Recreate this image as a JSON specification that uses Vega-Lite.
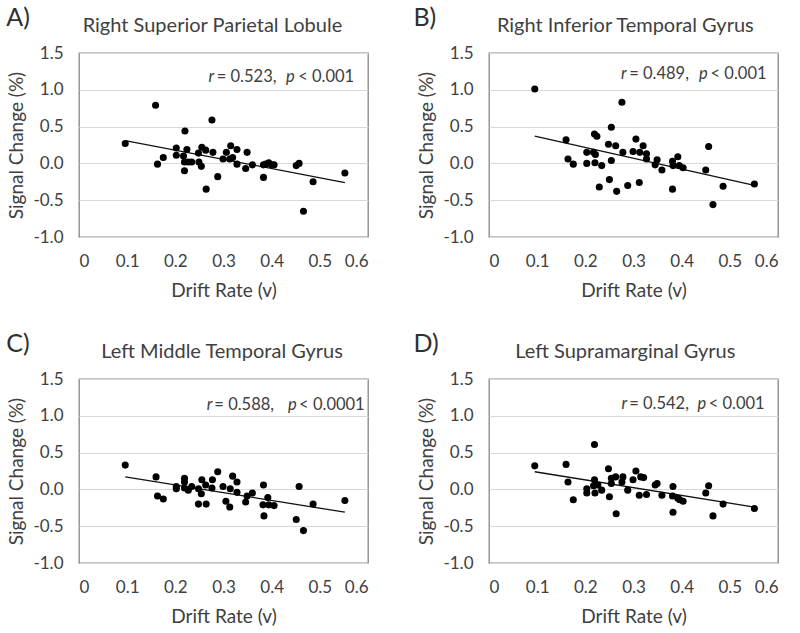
{
  "$schema": "https://vega.github.io/schema/vega-lite/v6.json",
  "background": "white",
  "padding": {"left": 5, "top": 5, "right": 5, "bottom": 5},
  "config": {
    "font": "Lato",
    "view": {"stroke": "#878787", "strokeWidth": 1.3},
    "axis": {"labelFont": "Lato", "titleFont": "Lato", "labelFontSize": 17, "titleFontSize": 19, "labelColor": "#404040", "titleColor": "#404040", "titleFontWeight": "normal", "ticks": false, "domain": false, "labelPadding": 16},
    "axisX": {"grid": false, "titlePadding": 12},
    "axisY": {"grid": true, "gridColor": "#d9d9d9", "gridWidth": 1, "titlePadding": 6}
  },
  "datasets": {
    "pts": [
      {"p":"A","v":0.096,"s":0.27},{"p":"A","v":0.159,"s":0.79},{"p":"A","v":0.163,"s":-0.01},{"p":"A","v":0.175,"s":0.08},{"p":"A","v":0.202,"s":0.21},{"p":"A","v":0.202,"s":0.11},{"p":"A","v":0.220,"s":0.44},{"p":"A","v":0.224,"s":0.19},{"p":"A","v":0.217,"s":0.10},{"p":"A","v":0.219,"s":0.02},{"p":"A","v":0.219,"s":-0.10},{"p":"A","v":0.227,"s":0.02},{"p":"A","v":0.234,"s":0.02},{"p":"A","v":0.248,"s":0.14},{"p":"A","v":0.249,"s":0.02},{"p":"A","v":0.254,"s":-0.04},{"p":"A","v":0.255,"s":0.22},{"p":"A","v":0.263,"s":0.18},{"p":"A","v":0.264,"s":-0.35},{"p":"A","v":0.276,"s":0.59},{"p":"A","v":0.278,"s":0.15},{"p":"A","v":0.288,"s":-0.18},{"p":"A","v":0.299,"s":0.06},{"p":"A","v":0.306,"s":0.15},{"p":"A","v":0.315,"s":0.24},{"p":"A","v":0.313,"s":0.06},{"p":"A","v":0.319,"s":0.08},{"p":"A","v":0.328,"s":0.19},{"p":"A","v":0.328,"s":-0.01},{"p":"A","v":0.346,"s":-0.07},{"p":"A","v":0.349,"s":0.15},{"p":"A","v":0.360,"s":-0.02},{"p":"A","v":0.383,"s":-0.02},{"p":"A","v":0.383,"s":-0.19},{"p":"A","v":0.388,"s":-0.01},{"p":"A","v":0.394,"s":0.01},{"p":"A","v":0.400,"s":-0.02},{"p":"A","v":0.405,"s":-0.02},{"p":"A","v":0.451,"s":-0.03},{"p":"A","v":0.457,"s":0.00},{"p":"A","v":0.466,"s":-0.65},{"p":"A","v":0.486,"s":-0.25},{"p":"A","v":0.552,"s":-0.13},
      {"p":"B","v":0.095,"s":1.01},{"p":"B","v":0.160,"s":0.32},{"p":"B","v":0.164,"s":0.06},{"p":"B","v":0.175,"s":-0.01},{"p":"B","v":0.203,"s":0.15},{"p":"B","v":0.203,"s":0.00},{"p":"B","v":0.217,"s":0.15},{"p":"B","v":0.221,"s":0.12},{"p":"B","v":0.219,"s":0.40},{"p":"B","v":0.224,"s":0.37},{"p":"B","v":0.220,"s":0.01},{"p":"B","v":0.234,"s":-0.03},{"p":"B","v":0.229,"s":-0.32},{"p":"B","v":0.248,"s":0.26},{"p":"B","v":0.250,"s":-0.22},{"p":"B","v":0.254,"s":0.49},{"p":"B","v":0.254,"s":0.04},{"p":"B","v":0.263,"s":0.24},{"p":"B","v":0.265,"s":-0.38},{"p":"B","v":0.276,"s":0.83},{"p":"B","v":0.278,"s":0.15},{"p":"B","v":0.288,"s":-0.30},{"p":"B","v":0.299,"s":0.16},{"p":"B","v":0.305,"s":0.33},{"p":"B","v":0.313,"s":0.15},{"p":"B","v":0.312,"s":-0.26},{"p":"B","v":0.320,"s":0.24},{"p":"B","v":0.327,"s":0.13},{"p":"B","v":0.327,"s":0.06},{"p":"B","v":0.345,"s":-0.02},{"p":"B","v":0.349,"s":0.05},{"p":"B","v":0.359,"s":-0.09},{"p":"B","v":0.381,"s":0.03},{"p":"B","v":0.382,"s":-0.03},{"p":"B","v":0.381,"s":-0.35},{"p":"B","v":0.392,"s":0.09},{"p":"B","v":0.395,"s":-0.03},{"p":"B","v":0.403,"s":-0.06},{"p":"B","v":0.450,"s":-0.09},{"p":"B","v":0.456,"s":0.23},{"p":"B","v":0.465,"s":-0.56},{"p":"B","v":0.486,"s":-0.31},{"p":"B","v":0.551,"s":-0.28},
      {"p":"C","v":0.096,"s":0.33},{"p":"C","v":0.160,"s":0.17},{"p":"C","v":0.163,"s":-0.09},{"p":"C","v":0.175,"s":-0.13},{"p":"C","v":0.202,"s":0.04},{"p":"C","v":0.202,"s":0.01},{"p":"C","v":0.219,"s":0.15},{"p":"C","v":0.219,"s":0.10},{"p":"C","v":0.219,"s":0.02},{"p":"C","v":0.227,"s":-0.01},{"p":"C","v":0.234,"s":0.04},{"p":"C","v":0.248,"s":0.01},{"p":"C","v":0.248,"s":-0.20},{"p":"C","v":0.254,"s":-0.06},{"p":"C","v":0.255,"s":0.13},{"p":"C","v":0.263,"s":0.06},{"p":"C","v":0.264,"s":-0.20},{"p":"C","v":0.277,"s":0.13},{"p":"C","v":0.276,"s":0.02},{"p":"C","v":0.288,"s":0.24},{"p":"C","v":0.299,"s":0.04},{"p":"C","v":0.305,"s":-0.16},{"p":"C","v":0.313,"s":-0.24},{"p":"C","v":0.314,"s":0.01},{"p":"C","v":0.319,"s":0.18},{"p":"C","v":0.328,"s":0.10},{"p":"C","v":0.328,"s":-0.04},{"p":"C","v":0.346,"s":-0.17},{"p":"C","v":0.349,"s":-0.09},{"p":"C","v":0.360,"s":-0.05},{"p":"C","v":0.383,"s":0.06},{"p":"C","v":0.382,"s":-0.21},{"p":"C","v":0.384,"s":-0.36},{"p":"C","v":0.392,"s":-0.11},{"p":"C","v":0.394,"s":-0.21},{"p":"C","v":0.405,"s":-0.22},{"p":"C","v":0.451,"s":-0.41},{"p":"C","v":0.457,"s":0.04},{"p":"C","v":0.466,"s":-0.56},{"p":"C","v":0.486,"s":-0.20},{"p":"C","v":0.552,"s":-0.15},
      {"p":"D","v":0.095,"s":0.32},{"p":"D","v":0.160,"s":0.34},{"p":"D","v":0.164,"s":0.10},{"p":"D","v":0.175,"s":-0.14},{"p":"D","v":0.203,"s":0.01},{"p":"D","v":0.203,"s":-0.05},{"p":"D","v":0.219,"s":0.61},{"p":"D","v":0.219,"s":0.13},{"p":"D","v":0.217,"s":0.05},{"p":"D","v":0.220,"s":-0.05},{"p":"D","v":0.226,"s":0.06},{"p":"D","v":0.234,"s":-0.01},{"p":"D","v":0.248,"s":0.28},{"p":"D","v":0.250,"s":-0.10},{"p":"D","v":0.254,"s":0.15},{"p":"D","v":0.254,"s":0.08},{"p":"D","v":0.263,"s":0.17},{"p":"D","v":0.264,"s":-0.33},{"p":"D","v":0.276,"s":0.10},{"p":"D","v":0.278,"s":0.17},{"p":"D","v":0.288,"s":-0.01},{"p":"D","v":0.299,"s":0.13},{"p":"D","v":0.305,"s":0.25},{"p":"D","v":0.312,"s":-0.08},{"p":"D","v":0.315,"s":0.17},{"p":"D","v":0.321,"s":0.16},{"p":"D","v":0.327,"s":-0.07},{"p":"D","v":0.345,"s":0.06},{"p":"D","v":0.349,"s":0.08},{"p":"D","v":0.359,"s":-0.08},{"p":"D","v":0.382,"s":0.04},{"p":"D","v":0.381,"s":-0.09},{"p":"D","v":0.382,"s":-0.31},{"p":"D","v":0.392,"s":-0.12},{"p":"D","v":0.396,"s":-0.14},{"p":"D","v":0.403,"s":-0.16},{"p":"D","v":0.450,"s":-0.05},{"p":"D","v":0.456,"s":0.05},{"p":"D","v":0.465,"s":-0.36},{"p":"D","v":0.486,"s":-0.20},{"p":"D","v":0.551,"s":-0.26}
    ],
    "fit": [
      {"p":"A","v":0.096,"s":0.31},{"p":"A","v":0.552,"s":-0.26},
      {"p":"B","v":0.095,"s":0.37},{"p":"B","v":0.551,"s":-0.30},
      {"p":"C","v":0.096,"s":0.17},{"p":"C","v":0.552,"s":-0.31},
      {"p":"D","v":0.095,"s":0.24},{"p":"D","v":0.551,"s":-0.24}
    ],
    "annNormal": [
      {"p":"A","v":0.286,"s":1.17,"t":"= 0.523,"},{"p":"A","v":0.455,"s":1.17,"t":"< 0.001"},
      {"p":"B","v":0.291,"s":1.21,"t":"= 0.489,"},{"p":"B","v":0.46,"s":1.21,"t":"< 0.001"},
      {"p":"C","v":0.281,"s":1.145,"t":"= 0.588,"},{"p":"C","v":0.457,"s":1.145,"t":"< 0.0001"},
      {"p":"D","v":0.291,"s":1.155,"t":"= 0.542,"},{"p":"D","v":0.456,"s":1.155,"t":"< 0.001"}
    ],
    "annItalic": [
      {"p":"A","v":0.269,"s":1.17,"t":"r"},{"p":"A","v":0.4295,"s":1.17,"t":"p"},
      {"p":"B","v":0.274,"s":1.21,"t":"r"},{"p":"B","v":0.436,"s":1.21,"t":"p"},
      {"p":"C","v":0.265,"s":1.145,"t":"r"},{"p":"C","v":0.434,"s":1.145,"t":"p"},
      {"p":"D","v":0.275,"s":1.155,"t":"r"},{"p":"D","v":0.433,"s":1.155,"t":"p"}
    ],
    "letters": [
      {"p":"A","v":-0.151,"s":1.867,"t":"A)"},
      {"p":"B","v":-0.157,"s":1.867,"t":"B)"},
      {"p":"C","v":-0.151,"s":1.87,"t":"C)"},
      {"p":"D","v":-0.157,"s":1.87,"t":"D)"}
    ],
    "names": [
      {"p":"A","v":0.277,"s":1.785,"t":"Right Superior Parietal Lobule"},
      {"p":"B","v":0.283,"s":1.785,"t":"Right Inferior Temporal Gyrus"},
      {"p":"C","v":0.297,"s":1.785,"t":"Left Middle Temporal Gyrus"},
      {"p":"D","v":0.283,"s":1.785,"t":"Left Supramarginal Gyrus"}
    ]
  },
  "bounds": "flush",
  "columns": 2,
  "spacing": {"row": 142, "column": 121},
  "concat": [
    {
      "width": 289, "height": 184,
      "encoding": {
        "x": {"field": "v", "type": "quantitative", "scale": {"domain": [0, 0.6]}, "axis": {"title": "Drift Rate (v)", "values": [0, 0.1, 0.2, 0.3, 0.4, 0.5, 0.6], "labelExpr": "datum.value == 0 ? '0' : format(datum.value, '.1f')"}},
        "y": {"field": "s", "type": "quantitative", "scale": {"domain": [-1, 1.5]}, "axis": {"title": "Signal Change (%)", "values": [-1, -0.5, 0, 0.5, 1, 1.5], "labelExpr": "replace(format(datum.value, '.1f'), '\u2212', '-')"}}
      },
      "layer": [
        {"data": {"name": "fit"}, "transform": [{"filter": "datum.p == 'A'"}], "mark": {"type": "line", "color": "#111111", "strokeWidth": 1.3}},
        {"data": {"name": "pts"}, "transform": [{"filter": "datum.p == 'A'"}], "mark": {"type": "circle", "color": "#000000", "size": 50, "opacity": 1}},
        {"data": {"name": "annNormal"}, "transform": [{"filter": "datum.p == 'A'"}], "mark": {"type": "text", "align": "left", "baseline": "middle", "fontSize": 16.5, "color": "#404040", "font": "Lato"}, "encoding": {"text": {"field": "t"}}},
        {"data": {"name": "annItalic"}, "transform": [{"filter": "datum.p == 'A'"}], "mark": {"type": "text", "align": "left", "baseline": "middle", "fontSize": 16.5, "fontStyle": "italic", "color": "#404040", "font": "Lato"}, "encoding": {"text": {"field": "t"}}},
        {"data": {"name": "letters"}, "transform": [{"filter": "datum.p == 'A'"}], "mark": {"type": "text", "align": "left", "baseline": "alphabetic", "fontSize": 25, "color": "#303030", "font": "Lato"}, "encoding": {"text": {"field": "t"}}},
        {"data": {"name": "names"}, "transform": [{"filter": "datum.p == 'A'"}], "mark": {"type": "text", "align": "center", "baseline": "alphabetic", "fontSize": 20, "color": "#404040", "font": "Lato"}, "encoding": {"text": {"field": "t"}}}
      ]
    },
    {
      "width": 289, "height": 184,
      "encoding": {
        "x": {"field": "v", "type": "quantitative", "scale": {"domain": [0, 0.6]}, "axis": {"title": "Drift Rate (v)", "values": [0, 0.1, 0.2, 0.3, 0.4, 0.5, 0.6], "labelExpr": "datum.value == 0 ? '0' : format(datum.value, '.1f')"}},
        "y": {"field": "s", "type": "quantitative", "scale": {"domain": [-1, 1.5]}, "axis": {"title": "Signal Change (%)", "values": [-1, -0.5, 0, 0.5, 1, 1.5], "labelExpr": "replace(format(datum.value, '.1f'), '\u2212', '-')"}}
      },
      "layer": [
        {"data": {"name": "fit"}, "transform": [{"filter": "datum.p == 'B'"}], "mark": {"type": "line", "color": "#111111", "strokeWidth": 1.3}},
        {"data": {"name": "pts"}, "transform": [{"filter": "datum.p == 'B'"}], "mark": {"type": "circle", "color": "#000000", "size": 50, "opacity": 1}},
        {"data": {"name": "annNormal"}, "transform": [{"filter": "datum.p == 'B'"}], "mark": {"type": "text", "align": "left", "baseline": "middle", "fontSize": 16.5, "color": "#404040", "font": "Lato"}, "encoding": {"text": {"field": "t"}}},
        {"data": {"name": "annItalic"}, "transform": [{"filter": "datum.p == 'B'"}], "mark": {"type": "text", "align": "left", "baseline": "middle", "fontSize": 16.5, "fontStyle": "italic", "color": "#404040", "font": "Lato"}, "encoding": {"text": {"field": "t"}}},
        {"data": {"name": "letters"}, "transform": [{"filter": "datum.p == 'B'"}], "mark": {"type": "text", "align": "left", "baseline": "alphabetic", "fontSize": 25, "color": "#303030", "font": "Lato"}, "encoding": {"text": {"field": "t"}}},
        {"data": {"name": "names"}, "transform": [{"filter": "datum.p == 'B'"}], "mark": {"type": "text", "align": "center", "baseline": "alphabetic", "fontSize": 20, "color": "#404040", "font": "Lato"}, "encoding": {"text": {"field": "t"}}}
      ]
    },
    {
      "width": 289, "height": 184,
      "encoding": {
        "x": {"field": "v", "type": "quantitative", "scale": {"domain": [0, 0.6]}, "axis": {"title": "Drift Rate (v)", "values": [0, 0.1, 0.2, 0.3, 0.4, 0.5, 0.6], "labelExpr": "datum.value == 0 ? '0' : format(datum.value, '.1f')"}},
        "y": {"field": "s", "type": "quantitative", "scale": {"domain": [-1, 1.5]}, "axis": {"title": "Signal Change (%)", "values": [-1, -0.5, 0, 0.5, 1, 1.5], "labelExpr": "replace(format(datum.value, '.1f'), '\u2212', '-')"}}
      },
      "layer": [
        {"data": {"name": "fit"}, "transform": [{"filter": "datum.p == 'C'"}], "mark": {"type": "line", "color": "#111111", "strokeWidth": 1.3}},
        {"data": {"name": "pts"}, "transform": [{"filter": "datum.p == 'C'"}], "mark": {"type": "circle", "color": "#000000", "size": 50, "opacity": 1}},
        {"data": {"name": "annNormal"}, "transform": [{"filter": "datum.p == 'C'"}], "mark": {"type": "text", "align": "left", "baseline": "middle", "fontSize": 16.5, "color": "#404040", "font": "Lato"}, "encoding": {"text": {"field": "t"}}},
        {"data": {"name": "annItalic"}, "transform": [{"filter": "datum.p == 'C'"}], "mark": {"type": "text", "align": "left", "baseline": "middle", "fontSize": 16.5, "fontStyle": "italic", "color": "#404040", "font": "Lato"}, "encoding": {"text": {"field": "t"}}},
        {"data": {"name": "letters"}, "transform": [{"filter": "datum.p == 'C'"}], "mark": {"type": "text", "align": "left", "baseline": "alphabetic", "fontSize": 25, "color": "#303030", "font": "Lato"}, "encoding": {"text": {"field": "t"}}},
        {"data": {"name": "names"}, "transform": [{"filter": "datum.p == 'C'"}], "mark": {"type": "text", "align": "center", "baseline": "alphabetic", "fontSize": 20, "color": "#404040", "font": "Lato"}, "encoding": {"text": {"field": "t"}}}
      ]
    },
    {
      "width": 289, "height": 184,
      "encoding": {
        "x": {"field": "v", "type": "quantitative", "scale": {"domain": [0, 0.6]}, "axis": {"title": "Drift Rate (v)", "values": [0, 0.1, 0.2, 0.3, 0.4, 0.5, 0.6], "labelExpr": "datum.value == 0 ? '0' : format(datum.value, '.1f')"}},
        "y": {"field": "s", "type": "quantitative", "scale": {"domain": [-1, 1.5]}, "axis": {"title": "Signal Change (%)", "values": [-1, -0.5, 0, 0.5, 1, 1.5], "labelExpr": "replace(format(datum.value, '.1f'), '\u2212', '-')"}}
      },
      "layer": [
        {"data": {"name": "fit"}, "transform": [{"filter": "datum.p == 'D'"}], "mark": {"type": "line", "color": "#111111", "strokeWidth": 1.3}},
        {"data": {"name": "pts"}, "transform": [{"filter": "datum.p == 'D'"}], "mark": {"type": "circle", "color": "#000000", "size": 50, "opacity": 1}},
        {"data": {"name": "annNormal"}, "transform": [{"filter": "datum.p == 'D'"}], "mark": {"type": "text", "align": "left", "baseline": "middle", "fontSize": 16.5, "color": "#404040", "font": "Lato"}, "encoding": {"text": {"field": "t"}}},
        {"data": {"name": "annItalic"}, "transform": [{"filter": "datum.p == 'D'"}], "mark": {"type": "text", "align": "left", "baseline": "middle", "fontSize": 16.5, "fontStyle": "italic", "color": "#404040", "font": "Lato"}, "encoding": {"text": {"field": "t"}}},
        {"data": {"name": "letters"}, "transform": [{"filter": "datum.p == 'D'"}], "mark": {"type": "text", "align": "left", "baseline": "alphabetic", "fontSize": 25, "color": "#303030", "font": "Lato"}, "encoding": {"text": {"field": "t"}}},
        {"data": {"name": "names"}, "transform": [{"filter": "datum.p == 'D'"}], "mark": {"type": "text", "align": "center", "baseline": "alphabetic", "fontSize": 20, "color": "#404040", "font": "Lato"}, "encoding": {"text": {"field": "t"}}}
      ]
    }
  ]
}
